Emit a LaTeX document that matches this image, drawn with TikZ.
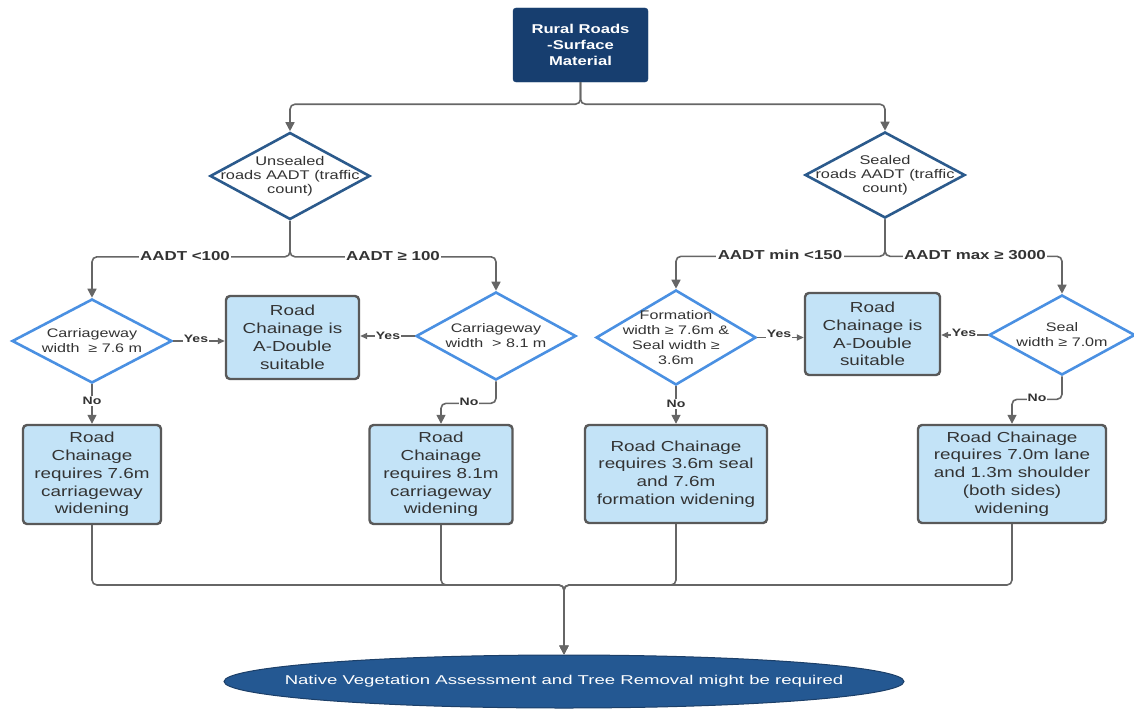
\documentclass[tikz,border=0pt]{standalone}
\usepackage{fontspec}
\setmainfont[FakeStretch=1.3]{Liberation Sans}
\newfontfamily\widefont[FakeStretch=1.45]{Liberation Sans}
\usetikzlibrary{arrows.meta,shapes.geometric}
\definecolor{navy}{HTML}{173E6F}
\definecolor{ellblue}{HTML}{245892}
\definecolor{ellborder}{HTML}{1C3F68}
\definecolor{darkdia}{HTML}{2B5A8C}
\definecolor{lightdia}{HTML}{4A90E2}
\definecolor{boxfill}{HTML}{C3E3F7}
\definecolor{boxline}{HTML}{595959}
\definecolor{linec}{HTML}{666666}
\definecolor{txt}{HTML}{333333}
\tikzset{
  titlebox/.style={rectangle, rounded corners=3pt, fill=navy, draw=navy, text=white,
    align=center, font=\bfseries\fontsize{12.8}{15.8}\selectfont},
  topdia/.style={diamond, draw=darkdia, line width=2.6pt, fill=white, inner sep=0pt},
  lowdia/.style={diamond, draw=lightdia, line width=2.6pt, fill=white, inner sep=0pt},
  toptext/.style={align=center, text=txt, font=\fontsize{12.6}{14}\selectfont},
  lowtext/.style={align=center, text=txt, font=\fontsize{12.4}{15}\selectfont},
  resbox/.style={rectangle, rounded corners=4pt, draw=boxline, line width=2.4pt, fill=boxfill,
    align=center, text=txt, font=\fontsize{14.5}{17.8}\selectfont, inner sep=0pt},
  endell/.style={ellipse, draw=ellborder, line width=1pt, fill=ellblue, inner sep=0pt},
  elltext/.style={text=white, font=\widefont\fontsize{12.8}{15}\selectfont},
  conn/.style={draw=linec, line width=1.6pt, rounded corners=5pt,
    -{Triangle[length=9pt,width=9pt]}},
  yesconn/.style={draw=linec, line width=1.6pt, -{Triangle[length=7pt,width=6pt]}},
  elab/.style={fill=white, inner sep=1.5pt, text=txt, font=\bfseries\fontsize{13}{14}\selectfont},
  ynlab/.style={fill=white, inner sep=1pt, text=txt, font=\bfseries\fontsize{10.8}{12}\selectfont},
}
\begin{document}
\begin{tikzpicture}[x=1pt,y=-1pt]
\useasboundingbox (0,0) rectangle (1134,709);

% nodes
\node[titlebox, minimum width=135pt, minimum height=74pt] (top) at (580.5,45) {Rural Roads\\-Surface\\Material};

\node[topdia, minimum width=160pt, minimum height=87pt,
  label={[toptext]center:{Unsealed\\roads AADT (traffic\\count)}}] (D1) at (290,176) {};
\node[topdia, minimum width=160pt, minimum height=86pt,
  label={[toptext]center:{Sealed\\roads AADT (traffic\\count)}}] (D2) at (885,175) {};

\node[lowdia, minimum width=160pt, minimum height=84pt,
  label={[lowtext]center:{Carriageway\\width\ \ ≥ 7.6 m}}] (C1) at (92,341) {};
\node[resbox, minimum width=133pt, minimum height=83pt] (AD1) at (292.5,337.5) {Road\\Chainage is\\A-Double\\suitable};
\node[lowdia, minimum width=160pt, minimum height=88pt,
  label={[lowtext]center:{Carriageway\\width\ \ > 8.1 m}}] (C2) at (496,336) {};

\node[lowdia, minimum width=160pt, minimum height=95pt,
  label={[lowtext]center:{Formation\\width ≥ 7.6m \&\\Seal width ≥\\3.6m}}] (F) at (676,337.5) {};
\node[resbox, minimum width=135pt, minimum height=82pt] (AD2) at (872.5,334) {Road\\Chainage is\\A-Double\\suitable};
\node[lowdia, minimum width=146pt, minimum height=80pt,
  label={[lowtext]center:{Seal\\width ≥ 7.0m}}] (S) at (1062,335) {};

\node[resbox, minimum width=138pt, minimum height=99pt] (B1) at (92,474.5) {Road\\Chainage\\requires 7.6m\\carriageway\\widening};
\node[resbox, minimum width=143pt, minimum height=99pt] (B2) at (441,474.5) {Road\\Chainage\\requires 8.1m\\carriageway\\widening};
\node[resbox, minimum width=182pt, minimum height=98pt] (B3) at (676,474) {Road Chainage\\requires 3.6m seal\\and 7.6m\\formation widening};
\node[resbox, minimum width=188pt, minimum height=98pt] (B4) at (1012,474) {Road Chainage\\requires 7.0m lane\\and 1.3m shoulder\\(both sides)\\widening};

\node[endell, minimum width=680pt, minimum height=53pt,
  label={[elltext]center:Native Vegetation Assessment and Tree Removal might be required}] (E) at (564,681.5) {};

\coordinate (bus) at (564,585);

% connectors
\draw[conn] (top.south) -- ++(0,22) -| (D1.north);
\draw[conn] (top.south) -- ++(0,22) -| (D2.north);
\draw[conn] (D1.south) -- ++(0,36) -| (C1.north);
\draw[conn] (D1.south) -- ++(0,36) -| (C2.north);
\draw[conn] (D2.south) -- ++(0,37) -| (F.north);
\draw[conn] (D2.south) -- ++(0,37) -| (S.north);

\draw[yesconn] (C1.east) -- (C1.east -| AD1.west);
\draw[yesconn] (C2.west) -- (C2.west -| AD1.east);
\draw[yesconn] (F.east) -- (F.east -| AD2.west);
\draw[yesconn] (S.west) -- (S.west -| AD2.east);

\draw[conn] (C1.south) -- (B1.north);
\draw[conn] (C2.south) -- ++(0,22) -| (B2.north);
\draw[conn] (F.south) -- (B3.north);
\draw[conn] (S.south) -- ++(0,23) -| (B4.north);

\draw[conn] (B1.south) |- (bus) -- (E.north);
\draw[conn] (B2.south) |- (bus) -- (E.north);
\draw[conn] (B3.south) |- (bus) -- (E.north);
\draw[conn] (B4.south) |- (bus) -- (E.north);

% labels
\node[elab] (l1) at (185,256) {AADT <100};
\node[elab] (l2) at (393,256) {AADT ≥ 100};
\node[elab] (l3) at (780,254.5) {AADT min <150};
\node[elab] (l4) at (975,255) {AADT max ≥ 3000};

\node[ynlab] (y1) at (196,339) {Yes};
\node[ynlab] (y2) at (388,336) {Yes};
\node[ynlab] (y3) at (779,334) {Yes};
\node[ynlab] (y4) at (964,333) {Yes};

\node[ynlab] (n1) at (92,401) {No};
\node[ynlab] (n2) at (469,402) {No};
\node[ynlab] (n3) at (676,404) {No};
\node[ynlab] (n4) at (1037,398) {No};
\end{tikzpicture}
\end{document}
